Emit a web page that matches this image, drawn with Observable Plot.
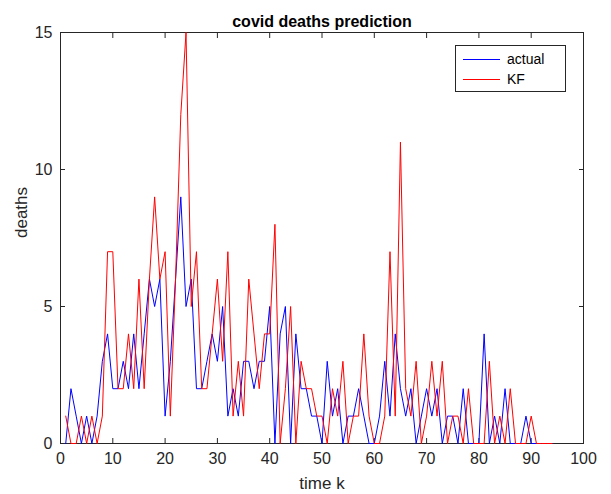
<!DOCTYPE html>
<html><head><meta charset="utf-8">
<script src="https://cdn.jsdelivr.net/npm/d3@7"></script>
<script src="https://cdn.jsdelivr.net/npm/@observablehq/plot@0.6"></script>
<style>
body{margin:0;background:#fff;font-family:"Liberation Sans",Arial,sans-serif;}
#wrap{position:relative;width:611px;height:494px;}
#legend{position:absolute;left:455px;top:45px;width:111px;height:47px;border:1px solid #262626;background:#fff;box-sizing:border-box;font-size:14px;color:#000;}
.row{position:absolute;left:0;height:16px;line-height:16px;}
.sw{position:absolute;left:7px;width:37px;height:0;border-top:1px solid;top:8px;}
.lab{position:absolute;left:51px;top:0;white-space:nowrap;}
</style></head>
<body>
<div id="wrap"><div id="chart"></div>
<div id="legend">
<div class="row" style="top:5px"><div class="sw" style="border-color:#0000ff"></div><span class="lab" id="l1"></span></div>
<div class="row" style="top:25px"><div class="sw" style="border-color:#ff0000"></div><span class="lab" id="l2"></span></div>
</div></div>
<script>
const title = "covid deaths prediction";
const xLabel = "time k";
const yLabel = "deaths";
const seriesNames = ["actual", "KF"];
const xTicks = [0, 10, 20, 30, 40, 50, 60, 70, 80, 90, 100];
const yTicks = [0, 5, 10, 15];
const steps = [1,2,3,4,5,6,7,8,9,10,11,12,13,14,15,16,17,18,19,20,21,22,23,24,25,26,27,28,29,30,31,32,33,34,35,36,37,38,39,40,41,42,43,44,45,46,47,48,49,50,51,52,53,54,55,56,57,58,59,60,61,62,63,64,65,66,67,68,69,70,71,72,73,74,75,76,77,78,79,80,81,82,83,84,85,86,87,88,89,90,91,92,93,94];
const actual = [0,2,1,0,1,0,1,3,4,2, 2,3,2,4,2,4,6,5,6,1, 3,6,9,5,6,2,2,3,4,3, 5,1,2,1,3,3,2,3,3,5, 0,4,5,0,4,2,2,1,1,0, 3,1,2,0,1,1,2,1,0,0, 1,3,1,4,2,1,2,0,1,2, 1,2,0,1,1,0,2,0,0,0, 4,0,1,0,2,0,0,0,1,0, 0,0,0,0];
const kf = [1,0,0,1,0,1,0,1,7,7, 2,2,4,2,6,2,6,9,6,7, 1,6,12,15,5,7,2,2,4,6, 3,7,1,3,1,6,4,2,4,4, 8,0,2,5,0,3,2,2,1,1, 0,2,1,3,0,1,1,4,1,0, 0,1,7,1,11,2,1,3,0,1, 3,1,3,0,1,1,0,2,0,0, 0,3,0,1,0,2,0,0,0,1, 0,0,0,0];

const data = steps.map((k, i) => ({k, actual: actual[i], kf: kf[i]}));
document.getElementById("l1").textContent = seriesNames[0];
document.getElementById("l2").textContent = seriesNames[1];
const axisColor = "#262626";
const chart = Plot.plot({
  width: 611, height: 494,
  marginLeft: 60, marginRight: 28, marginTop: 32, marginBottom: 51,
  x: {domain: [0, 100]},
  y: {domain: [0, 15]},
  style: {fontFamily: "'Liberation Sans', Arial, sans-serif", fontSize: "16px", color: axisColor, background: "white"},
  marks: [
    Plot.frame({stroke: axisColor}),
    Plot.axisX({ticks: xTicks, anchor: "bottom", tickSize: -5, tickPadding: 14, fontSize: 16, label: null}),
    Plot.axisX({ticks: xTicks, anchor: "top", tickSize: -5, tickFormat: () => "", label: null}),
    Plot.axisY({ticks: yTicks, anchor: "left", tickSize: -5, tickPadding: 13, fontSize: 16, label: null}),
    Plot.axisY({ticks: yTicks, anchor: "right", tickSize: -5, tickFormat: () => "", label: null}),
    Plot.line(data, {x: "k", y: "actual", stroke: "#0000ff", strokeWidth: 1}),
    Plot.line(data, {x: "k", y: "kf", stroke: "#ff0000", strokeWidth: 1}),
    Plot.text([xLabel], {frameAnchor: "bottom", dy: 45, fontSize: 17, fill: axisColor}),
    Plot.text([yLabel], {frameAnchor: "left", dx: -39, rotate: -90, fontSize: 17, fill: axisColor}),
    Plot.text([title], {frameAnchor: "top", dy: -17, fontWeight: "bold", fontSize: 16, fill: "#000"})
  ]
});
document.getElementById("chart").appendChild(chart);
</script>
</body></html>
